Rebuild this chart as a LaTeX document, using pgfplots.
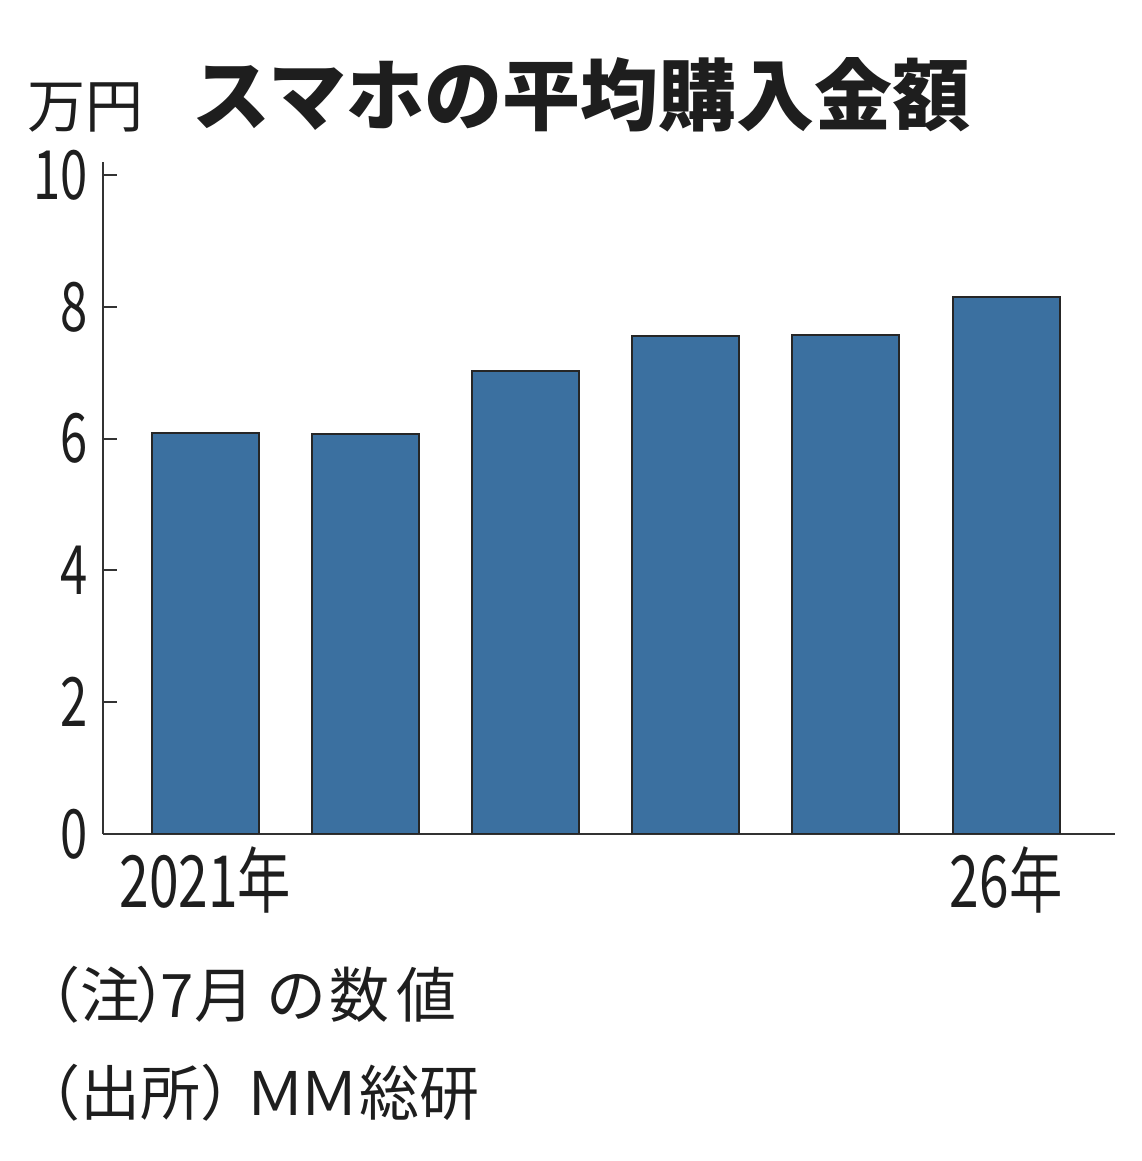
\documentclass[border=0pt]{standalone}
\usepackage{fontspec}
\usepackage{pgfplots}
\pgfplotsset{compat=1.18}
\setmainfont{Noto Sans CJK JP}
\newfontfamily\cjk{Noto Sans CJK JP}
\newfontfamily\cjkcond[FakeStretch=0.72]{Noto Sans CJK JP}
\newfontfamily\cjkcondx[FakeStretch=0.74]{Noto Sans CJK JP}
\definecolor{barblue}{RGB}{59,112,160}
\definecolor{txt}{RGB}{30,30,30}
\begin{document}
\begin{tikzpicture}
\useasboundingbox (0,0) rectangle (570.5pt,580.5pt);
\begin{axis}[
  at={(51.5pt,163.5pt)}, anchor=south west,
  scale only axis, width=506pt, height=336pt,
  xmin=-0.64, xmax=5.68, ymin=0, ymax=10.2,
  axis x line=bottom, axis y line=left,
  axis line style={-, line width=1pt, draw=black!80},
  xtick={0,5}, xticklabels={2021年,26年},
  x tick style={draw=none},
  ytick={0,2,4,6,8,10}, yticklabels={0,2,4,6,8,10},
  y tick style={line width=1pt, draw=black!80},
  tick align=inside, major tick length=7pt,
  yticklabel style={font=\cjkcond\fontsize{34}{40}\selectfont, text=txt, anchor=east, inner sep=0pt, xshift=-7.5pt},
  xticklabel style={font=\cjkcondx\fontsize{36}{42}\selectfont, text=txt, anchor=base, inner sep=0pt, yshift=-37pt},
]
\addplot[ybar, bar width=53.5pt, fill=barblue, draw=black!85, line width=1pt]
  coordinates {(0,6.09) (1,6.07) (2,7.02) (3,7.56) (4,7.58) (5,8.15)};
\end{axis}
\node[anchor=base west, inner sep=0pt, text=txt, font=\cjk\fontsize{29}{34}\selectfont] at (13.5pt,516.5pt) {万円};
\node[anchor=base west, inner sep=0pt, text=txt, font=\cjk\bfseries\fontsize{39}{46}\selectfont] at (96pt,518pt) {スマホの平均購入金額};
\node[anchor=base west, inner sep=0pt, text=txt, font=\cjk\fontsize{30}{35}\selectfont] at (10pt,71.5pt) {（注\kern-0.08em）\kern-0.58em 7月\kern0.2em の\kern0.05em 数\kern0.12em 値};
\node[anchor=base west, inner sep=0pt, text=txt, font=\cjk\fontsize{30}{35}\selectfont] at (10pt,22.5pt) {（出所）\kern-0.25em Ｍ\kern-0.1emＭ総研};
\end{tikzpicture}
\end{document}
